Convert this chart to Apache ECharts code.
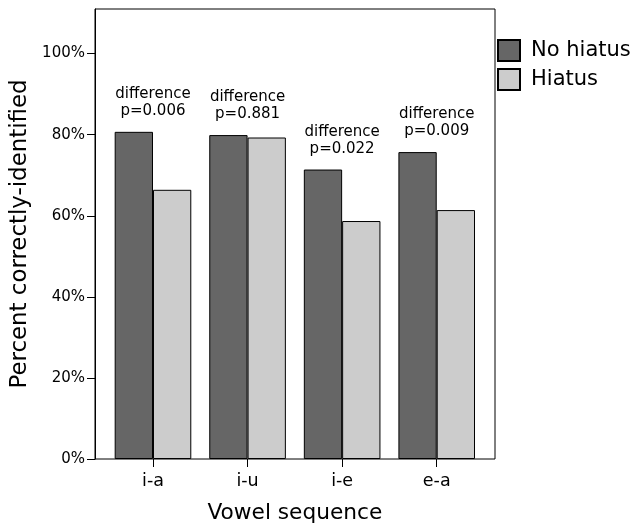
<!DOCTYPE html>
<html>
<head>
<meta charset="utf-8">
<script src="https://cdn.jsdelivr.net/npm/echarts@6/dist/echarts.min.js"></script>
<style>
html,body{margin:0;padding:0;background:#fff;}
#chart{width:635px;height:525px;}
</style>
</head>
<body>
<div id="chart"></div>
<script>
var categories = ['i-a', 'i-u', 'i-e', 'e-a'];
var noHiatus = [80.7, 79.9, 71.4, 75.7];
var hiatus = [66.4, 79.3, 58.7, 61.4];
var pLabels = ['p=0.006', 'p=0.881', 'p=0.022', 'p=0.009'];
var yTicks = [0, 20, 40, 60, 80, 100];

var FONT = '"DejaVu Sans", sans-serif';
var labelTops = categories.map(function (c, i) {
  return { value: Math.max(noHiatus[i], hiatus[i]), p: pLabels[i] };
});

var chart = echarts.init(document.getElementById('chart'), null, { renderer: 'canvas' });
chart.setOption({
  animation: false,
  backgroundColor: '#fff',
  textStyle: { fontFamily: FONT, color: '#000' },
  legend: {
    data: ['No hiatus', 'Hiatus'],
    orient: 'vertical',
    left: 497,
    top: 39,
    padding: 0,
    itemWidth: 22,
    itemHeight: 21,
    itemGap: 6,
    icon: 'rect',
    textStyle: { fontFamily: FONT, fontSize: 21, color: '#000', padding: [0, 0, 0, 6] }
  },
  grid: [
    { left: 95, right: 140, top: 9, bottom: 66, show: true, borderColor: '#000', borderWidth: 1, backgroundColor: 'transparent', outerBoundsMode: 'none', containLabel: false },
    { left: 105.7, right: 151, top: 9, bottom: 66, outerBoundsMode: 'none', containLabel: false }
  ],
  xAxis: [
    { gridIndex: 0, type: 'category', data: categories, show: false },
    {
      gridIndex: 1, type: 'category', data: categories,
      name: 'Vowel sequence', nameLocation: 'middle', nameGap: 43,
      nameTextStyle: { fontFamily: FONT, fontSize: 21.7, color: '#000' },
      axisLine: { show: false },
      axisTick: { show: true, alignWithLabel: true, length: 8, lineStyle: { color: '#000', width: 1 } },
      axisLabel: { margin: 13, fontFamily: FONT, fontSize: 17.5, color: '#000' },
      splitLine: { show: false }
    }
  ],
  yAxis: [
    {
      gridIndex: 0, type: 'value', min: 0, max: 111, interval: 20,
      name: 'Percent correctly-identified', nameLocation: 'middle', nameGap: 57, nameRotate: 90,
      nameTextStyle: { fontFamily: FONT, fontSize: 22.9, color: '#000' },
      axisLine: { show: true, lineStyle: { color: '#000', width: 1 } },
      axisTick: { show: true, length: 8, customValues: yTicks, lineStyle: { color: '#000', width: 1 } },
      axisLabel: { margin: 10, fontFamily: FONT, fontSize: 15, color: '#000', customValues: yTicks, formatter: '{value}%' },
      splitLine: { show: false }
    },
    { gridIndex: 1, type: 'value', min: 0, max: 111, show: false, splitLine: { show: false } }
  ],
  series: [
    {
      name: 'No hiatus', type: 'bar', xAxisIndex: 1, yAxisIndex: 1,
      data: noHiatus, barWidth: '40.5%', barGap: '0%',
      itemStyle: { color: '#666666', borderColor: '#000', borderWidth: 1 }
    },
    {
      name: 'Hiatus', type: 'bar', xAxisIndex: 1, yAxisIndex: 1,
      data: hiatus, barWidth: '40.5%', barGap: '0%',
      itemStyle: { color: '#cccccc', borderColor: '#000', borderWidth: 1 }
    },
    {
      name: 'pvalues', type: 'scatter', xAxisIndex: 1, yAxisIndex: 1, silent: true,
      symbolSize: 0, itemStyle: { color: '#000', opacity: 1 },
      data: labelTops.map(function (d) { return { value: d.value, p: d.p }; }),
      label: {
        show: true, position: 'top', distance: 12, opacity: 1,
        fontFamily: FONT, fontSize: 15, lineHeight: 17, color: '#000', align: 'center',
        formatter: function (params) { return 'difference\n' + params.data.p; }
      }
    }
  ]
});
</script>
</body>
</html>
